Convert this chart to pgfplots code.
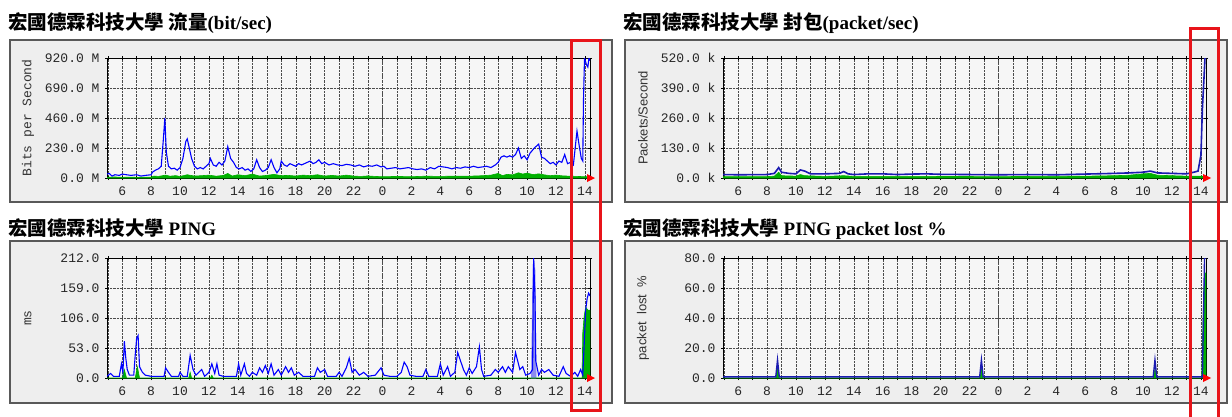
\documentclass[border=0pt]{standalone}
\usepackage{fontspec}
\usepackage{pgfplots}
\pgfplotsset{compat=1.18}
\setmainfont{Liberation Serif}
\newfontfamily\cjk{Noto Sans CJK TC}
\newfontfamily\mono{Liberation Mono}
\newfontfamily\sans{Liberation Sans}
\definecolor{mrtgblue}{HTML}{0000FF}
\definecolor{mrtgdblue}{HTML}{1A1AB0}
\definecolor{mrtggreen}{HTML}{00B000}
\definecolor{mrtgpurple}{HTML}{8C8CF0}
\definecolor{framegray}{HTML}{EEEEEE}
\definecolor{plotbg}{HTML}{F6F6F6}
\definecolor{hl}{HTML}{E8141A}

\pgfplotsset{mrtg/.style={
  anchor=north west, scale only axis, width=483pt, height=120pt,
  xmin=4.95, xmax=38.35, ymin=0,
  xtick={6,8,...,38}, minor xtick={5,...,38},
  xticklabels={6,8,10,12,14,16,18,20,22,0,2,4,6,8,10,12,14},
  grid=both,
  major grid style={black!70, densely dotted},
  minor grid style={black!70, densely dotted},
  tick align=center, major tick length=4pt, minor tick length=4pt,
  tick style={black, thin},
  axis background/.style={fill=plotbg},
  ticklabel style={font=\mono\fontsize{13}{13}\selectfont, text=black!85},
  yticklabel style={xshift=-2pt},
  xticklabel style={yshift=-3pt},
  axis line style={black, line width=0.8pt},
  extra x ticks={24}, extra x tick labels={},
  extra x tick style={grid style={red, solid, line width=0.8pt}, major tick length=0pt},
}}

\begin{document}
\begin{tikzpicture}
\useasboundingbox (0,0) rectangle (1232pt,-416pt);
% frames
\foreach \fx/\fy in {10/40, 625/40, 10/241, 625/241}{
  \draw[line width=2pt, draw=black!65, fill=framegray] (\fx pt,-\fy pt) rectangle ++(602pt,-162pt);
}
% titles
\node[anchor=base west, inner sep=0] at (8pt,-29pt) {{\cjk\bfseries\fontsize{19.5}{19.5}\selectfont 宏國德霖科技大學 流量}{\bfseries\fontsize{19}{19}\selectfont(bit/sec)}};
\node[anchor=base west, inner sep=0] at (623pt,-29pt) {{\cjk\bfseries\fontsize{19.5}{19.5}\selectfont 宏國德霖科技大學 封包}{\bfseries\fontsize{19}{19}\selectfont(packet/sec)}};
\node[anchor=base west, inner sep=0] at (8pt,-235pt) {{\cjk\bfseries\fontsize{19.5}{19.5}\selectfont 宏國德霖科技大學 }{\bfseries\fontsize{19}{19}\selectfont PING}};
\node[anchor=base west, inner sep=0] at (623pt,-235pt) {{\cjk\bfseries\fontsize{19.5}{19.5}\selectfont 宏國德霖科技大學 }{\bfseries\fontsize{19}{19}\selectfont PING packet lost \%}};
% y labels
\node[rotate=90, inner sep=0, text=black!80] at (28pt,-118pt) {\mono\fontsize{13}{13}\selectfont Bits per Second};
\node[rotate=90, inner sep=0, text=black!80] at (643pt,-118pt) {\sans\fontsize{13}{13}\selectfont Packets/Second};
\node[rotate=90, inner sep=0, text=black!80] at (28pt,-318pt) {\mono\fontsize{13}{13}\selectfont ms};
\node[rotate=90, inner sep=0, text=black!80] at (643pt,-318pt) {\sans\fontsize{13}{13}\selectfont packet\ \ lost\ \ \%};

% ---------------- Panel 1: traffic
\begin{axis}[mrtg, name=p1, at={(107pt,-58pt)}, ymax=920,
  ytick={0,230,460,690,920},
  yticklabels={0.0 M,230.0 M,460.0 M,690.0 M,920.0 M}]
\addplot[fill=mrtggreen, draw=mrtggreen, line width=0.6pt] coordinates {
(4.95,6)(5.5,8)(6,5)(6.5,7)(7,5)(7.5,6)(8,6)(8.2,15)(8.5,12)(9,22)(9.3,14)(9.7,18)(10,12)
(10.5,25)(11,15)(11.5,18)(12,22)(12.5,14)(13,20)(13.3,35)(13.6,15)(14,25)(14.5,18)(15,30)
(15.5,15)(16,20)(16.5,28)(17,18)(17.5,20)(18,15)(18.5,22)(19,18)(19.5,25)(20,15)(20.5,20)
(21,15)(21.5,22)(22,15)(22.5,12)(23,16)(23.5,12)(24,10)(25,12)(26,10)(27,14)(28,12)(29,15)
(30,14)(31,18)(31.5,22)(32,35)(32.3,18)(32.6,28)(33,24)(33.4,40)(33.7,30)(34,38)(34.4,26)
(34.8,32)(35.2,24)(35.6,18)(36,22)(36.5,16)(37,14)(37.5,12)(38,10)(38.35,10)} \closedcycle;
\addplot[mrtgblue, line width=1.1pt] coordinates {
(4.95,30)(5.1,35)(5.3,15)(5.5,25)(5.8,20)(6.0,30)(6.3,25)(6.6,20)(7.0,25)(7.3,15)(7.6,20)(8.0,25)
(8.1,45)(8.3,60)(8.5,70)(8.7,90)(8.85,300)(8.95,460)(9.05,200)(9.2,90)(9.4,70)(9.6,75)(9.8,60)
(10.0,80)(10.2,150)(10.4,280)(10.5,300)(10.6,250)(10.8,150)(11.0,90)(11.2,70)(11.4,80)(11.6,70)
(11.8,90)(12.0,110)(12.1,150)(12.3,100)(12.5,90)(12.7,120)(12.9,100)(13.1,130)(13.3,240)(13.5,150)
(13.7,120)(13.9,80)(14.1,70)(14.3,80)(14.5,60)(14.7,70)(14.9,50)(15.1,70)(15.3,140)(15.5,80)
(15.7,50)(15.9,60)(16.1,80)(16.3,140)(16.5,80)(16.7,40)(16.9,70)(17.0,130)(17.2,100)(17.4,90)
(17.6,110)(17.8,100)(18.0,90)(18.2,110)(18.4,100)(18.6,110)(18.8,120)(19.0,130)(19.2,110)
(19.4,120)(19.6,140)(19.8,110)(20.0,120)(20.3,100)(20.6,110)(20.9,100)(21.2,95)(21.5,105)
(21.8,100)(22.1,90)(22.4,100)(22.7,85)(23.0,95)(23.3,90)(23.6,100)(23.9,85)(24.1,90)(24.3,70)
(24.6,75)(24.9,80)(25.2,70)(25.5,75)(25.8,80)(26.1,70)(26.4,65)(26.7,70)(27.0,60)(27.3,80)
(27.6,70)(27.9,90)(28.2,85)(28.5,80)(28.8,70)(29.1,80)(29.4,75)(29.7,85)(30.0,80)(30.3,90)
(30.6,80)(30.9,85)(31.2,90)(31.5,80)(31.8,100)(32.0,120)(32.2,160)(32.4,170)(32.6,160)(32.8,170)
(33.0,160)(33.2,180)(33.4,230)(33.6,150)(33.8,170)(34.0,140)(34.2,190)(34.5,230)(34.8,260)
(35.0,160)(35.2,150)(35.4,130)(35.6,110)(35.8,120)(36.0,100)(36.2,130)(36.4,120)(36.6,180)
(36.8,110)(37.0,120)(37.2,100)(37.45,360)(37.6,250)(37.75,150)(37.85,130)(37.9,600)(37.97,920)
(38.1,870)(38.2,850)(38.28,920)(38.35,900)};
\end{axis}

% ---------------- Panel 2: packets
\begin{axis}[mrtg, name=p2, at={(723pt,-58pt)}, ymax=520,
  ytick={0,130,260,390,520},
  yticklabels={0.0 k,130.0 k,260.0 k,390.0 k,520.0 k}]
\addplot[fill=mrtggreen, draw=mrtggreen, line width=0.6pt] coordinates {
(4.95,6)(8,6)(8.5,8)(8.8,25)(9.0,10)(10,8)(10.3,15)(10.6,10)(12,7)(13.3,10)(14,7)(18,7)
(24,6)(30,8)(32,10)(33,12)(34,18)(34.5,20)(35,12)(36,10)(37,8)(37.8,8)(38.35,8)} \closedcycle;
\addplot[mrtgdblue, line width=1.6pt] coordinates {
(4.95,15)(6,14)(8.0,15)(8.5,20)(8.8,45)(9.0,25)(9.5,20)(10,18)(10.3,35)(10.6,30)(11,18)(12,18)
(13,20)(13.3,28)(13.6,18)(14,15)(15,18)(16,18)(17,15)(18,17)(19,18)(20,16)(22,15)(24,14)
(26,15)(28,14)(30,17)(32,20)(33,22)(34,25)(34.5,30)(35,22)(36,20)(37,18)(37.5,25)(37.8,30)
(38.0,100)(38.1,300)(38.2,420)(38.28,520)(38.35,520)};
\end{axis}

% ---------------- Panel 3: ping
\begin{axis}[mrtg, name=p3, at={(107pt,-258pt)}, ymax=212,
  ytick={0,53,106,159,212},
  yticklabels={0.0,53.0,106.0,159.0,212.0}]
\addplot[fill=mrtgpurple, draw=mrtgpurple, line width=0.6pt] coordinates {
(34.3,0)(34.38,150)(34.45,212)(34.55,190)(34.62,0)} \closedcycle;
\addplot[fill=mrtggreen, draw=mrtggreen, line width=0.6pt] coordinates {
(4.95,0)(6.0,0)(6.15,15)(6.3,0)(6.9,0)(7.05,20)(7.2,0)(10.6,0)(10.7,10)(10.8,0)(12.1,0)(12.2,5)
(12.3,0)(37.8,0)(37.85,80)(37.95,110)(38.05,125)(38.2,120)(38.35,120)} \closedcycle;
\addplot[mrtgblue, line width=1.1pt] coordinates {
(4.95,3)(5.2,8)(5.4,3)(5.8,3)(5.95,25)(6.05,10)(6.15,65)(6.25,35)(6.35,15)(6.5,5)(6.8,5)(6.9,40)
(7.0,70)(7.1,75)(7.2,20)(7.4,10)(7.6,5)(8.0,3)(8.9,3)(9.0,18)(9.2,10)(9.4,3)(9.9,3)(10.0,10)
(10.2,3)(10.5,3)(10.7,40)(10.9,15)(11.1,5)(11.5,15)(11.7,3)(12.0,10)(12.2,25)(12.4,8)(12.55,25)
(12.7,5)(13.0,3)(13.9,3)(14.05,25)(14.2,5)(14.45,25)(14.6,8)(14.8,3)(15.0,10)(15.3,5)(15.5,18)
(15.7,10)(15.9,22)(16.1,8)(16.3,25)(16.5,5)(16.8,15)(17.0,5)(17.3,20)(17.5,10)(17.7,18)(17.9,5)
(18.2,10)(18.5,3)(19.3,3)(19.5,18)(19.7,10)(20.0,15)(20.2,3)(20.8,3)(21.0,10)(21.2,3)(21.5,18)
(21.7,35)(21.9,10)(22.1,15)(22.4,5)(22.7,10)(23.0,3)(23.5,5)(23.9,18)(24.1,5)(24.5,3)(25.0,3)
(25.3,10)(25.5,28)(25.7,20)(25.9,5)(26.3,3)(26.8,3)(27.0,15)(27.2,3)(27.8,3)(28.0,25)(28.2,5)
(28.5,20)(28.7,3)(29.0,10)(29.2,45)(29.4,30)(29.6,15)(29.8,5)(30.0,18)(30.2,8)(30.5,20)(30.7,55)
(30.85,15)(31.0,3)(31.5,5)(31.8,15)(32.0,10)(32.3,20)(32.5,10)(32.7,20)(33.0,10)(33.2,45)
(33.35,30)(33.5,15)(33.7,20)(33.9,5)(34.2,8)(34.38,15)(34.45,212)(34.55,140)(34.6,30)(34.8,5)
(35.0,15)(35.2,10)(35.5,15)(35.8,5)(36.2,3)(36.5,20)(36.7,8)(37.0,3)(37.3,10)(37.5,3)(37.7,15)
(37.85,5)(37.95,60)(38.05,120)(38.15,140)(38.25,150)(38.35,145)};
\end{axis}

% ---------------- Panel 4: packet loss
\begin{axis}[mrtg, name=p4, at={(723pt,-258pt)}, ymax=80,
  ytick={0,20,40,60,80},
  yticklabels={0.0,20.0,40.0,60.0,80.0}]
\addplot[fill=mrtggreen, draw=mrtggreen, line width=0.6pt] coordinates {
(4.95,0)(8.6,0)(8.72,6)(8.84,0)(22.7,0)(22.82,6)(22.94,0)(34.7,0)(34.82,6)(34.94,0)
(38.05,0)(38.2,60)(38.3,70)(38.35,70)} \closedcycle;
\addplot[mrtgdblue, line width=1.4pt] coordinates {
(4.95,0.8)(8.6,0.8)(8.72,12)(8.84,0.8)(22.7,0.8)(22.82,12)(22.94,0.8)(34.7,0.8)(34.82,12)
(34.94,0.8)(38.1,0.8)(38.25,80)(38.35,80)};
\end{axis}

% red arrows at x-axis ends
\foreach \p in {p1,p2,p3,p4}{
  \fill[red] (\p.south east) ++(-3pt,4pt) -- ++(8pt,-4pt) -- ++(-8pt,-4pt) -- cycle;
}
% highlight boxes
\draw[hl, line width=3pt] (571pt,-40pt) rectangle (600pt,-410pt);
\draw[hl, line width=3pt] (1190pt,-420pt) -- (1190pt,-28pt) -- (1218pt,-28pt) -- (1218pt,-420pt);
\end{tikzpicture}
\end{document}
